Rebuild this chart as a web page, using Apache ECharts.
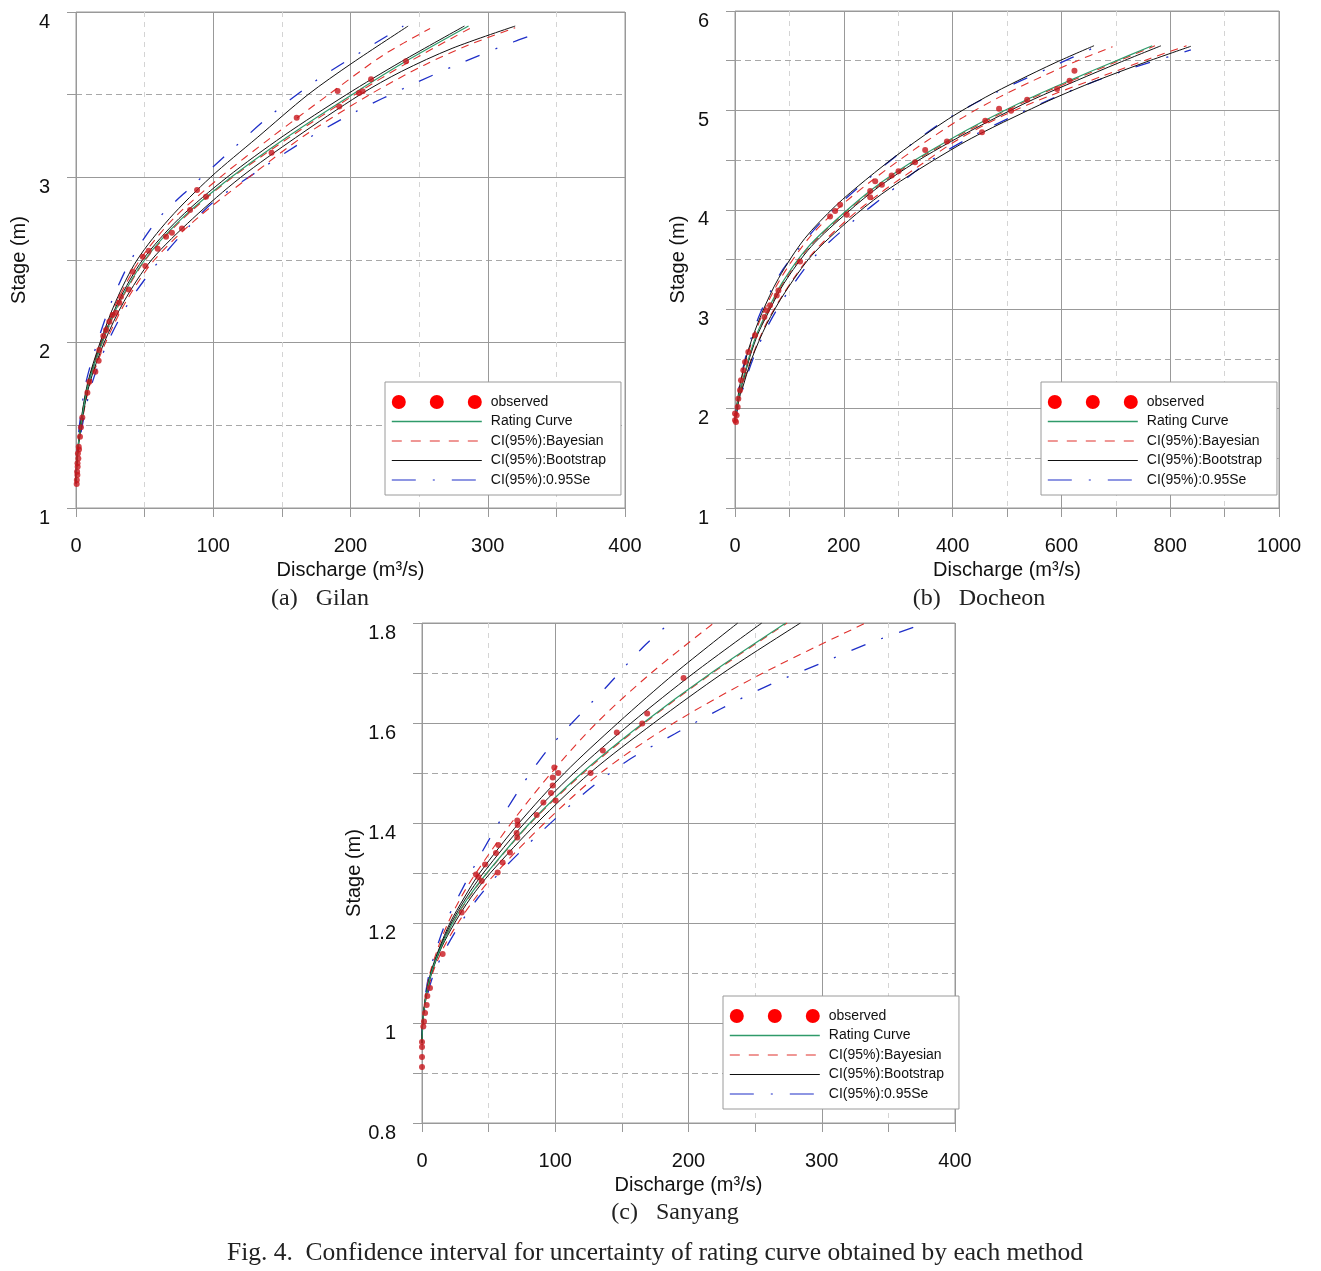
<!DOCTYPE html>
<html><head><meta charset="utf-8">
<script src="https://cdn.jsdelivr.net/npm/echarts@6/dist/echarts.min.js"></script>
<style>html,body{margin:0;padding:0;background:#fff}#c{width:1321px;height:1271px}</style>
</head><body><div id="c"></div>
<script>
// ---------- (a) Gilan : [discharge m3/s, stage m] ----------
const gilanObs = [[0.5,1.145],[0.6,1.17],[1.0,1.199],[0.8,1.22],[1.2,1.249],[1.1,1.27],[1.7,1.30],[1.4,1.33],[2.2,1.354],[2.0,1.37],[2.9,1.431],[3.6,1.488],[4.6,1.548],[8.3,1.697],[9.7,1.763],[14.1,1.824],[16.5,1.891],[17,1.955],[19.9,2.04],[21.9,2.076],[24.3,2.127],[26.7,2.167],[29.1,2.181],[31.6,2.241],[32.8,2.278],[38.4,2.322],[41.3,2.429],[50.5,2.463],[48.6,2.52],[53,2.556],[59.5,2.568],[65.6,2.641],[69.9,2.665],[77.2,2.691],[83.1,2.802],[88.2,2.923],[94.7,2.883],[142.5,3.148],[160.8,3.36],[190.6,3.522],[191.8,3.429],[206.2,3.51],[208.9,3.52],[215,3.593],[240.5,3.702]];
const gilanRating = [[0,1.15],[0.8,1.3],[3.5,1.5],[9,1.75],[19,2.0],[32,2.25],[50,2.5],[77,2.75],[113,3.0],[155,3.25],[201,3.5],[240,3.7],[286,3.915]];
const gilanBayesUp = [[0,1.15],[0.7,1.3],[3.3,1.5],[8.6,1.75],[18,2.0],[30,2.25],[46.5,2.5],[71,2.75],[105,3.0],[142,3.24],[184,3.5],[224,3.74],[258,3.9]];
const gilanBayesMid = [[0,1.15],[0.8,1.3],[3.5,1.5],[9.1,1.75],[19.2,2.0],[32.5,2.25],[50.5,2.5],[78,2.75],[114,3.0],[157,3.25],[203,3.5],[243,3.7],[289,3.91]];
const gilanBayesLow = [[0,1.15],[0.9,1.3],[4,1.5],[10.2,1.75],[21.5,2.0],[36.5,2.25],[57,2.5],[88,2.75],[126,3.0],[166,3.25],[214,3.5],[254,3.68],[286,3.8],[320,3.905]];
const gilanBootUp = [[0,1.15],[0.7,1.3],[3.2,1.5],[8.3,1.75],[17.5,2.0],[29,2.25],[44.5,2.5],[68,2.75],[98,3.0],[132,3.24],[169,3.5],[201,3.69],[242,3.915]];
const gilanBootMid = [[0,1.15],[0.8,1.3],[3.4,1.5],[8.8,1.75],[18.6,2.0],[31,2.25],[48.5,2.5],[75,2.75],[110,3.0],[151,3.25],[197,3.5],[237,3.7],[283,3.915]];
const gilanBootLow = [[0,1.15],[0.9,1.3],[3.9,1.5],[9.8,1.75],[20.5,2.0],[35,2.25],[55,2.5],[85,2.75],[120,3.0],[160,3.24],[207,3.5],[237,3.64],[274,3.78],[320,3.915]];
const gilanSeUp = [[0,1.15],[0.5,1.3],[2.5,1.5],[7,1.75],[15.5,2.0],[26,2.25],[40,2.5],[60,2.75],[85,2.95],[110,3.14],[141,3.37],[174,3.58],[208,3.76],[238.5,3.915]];
const gilanSeLow = [[0,1.15],[1,1.3],[4.6,1.5],[11.5,1.75],[23,2.0],[39,2.25],[61,2.5],[82,2.7],[100,2.85],[136.5,3.06],[170,3.24],[204.5,3.4],[242,3.55],[280,3.69],[319,3.82],[338,3.875]];

// ---------- (b) Docheon ----------
const docheonObs = [[0,1.882],[0,1.95],[1.8,1.866],[3,1.933],[4.9,2.017],[6.1,2.1],[9.2,2.184],[11,2.285],[15.3,2.385],[18.4,2.469],[24.5,2.57],[36.8,2.737],[54,2.921],[58.3,2.988],[64.4,3.039],[76.7,3.139],[79.8,3.189],[119.6,3.481],[174.8,3.933],[184,3.987],[193.3,4.05],[205.5,3.95],[248.5,4.127],[248.5,4.188],[257.7,4.288],[270,4.251],[288,4.345],[300.6,4.389],[331,4.479],[349.6,4.601],[389.6,4.688],[454,4.779],[460,4.896],[485.4,5.017],[507.5,4.997],[537,5.107],[592,5.215],[615,5.299],[624,5.399]];
const docheonRating = [[0,1.88],[1.8,1.95],[6,2.1],[11,2.22],[20,2.4],[27.6,2.55],[40,2.75],[54,2.92],[86,3.26],[135,3.63],[202.5,3.98],[257.7,4.23],[325,4.48],[389.6,4.69],[460,4.9],[537,5.11],[615,5.3],[692,5.48],[767,5.65]];
const docheonBayesUp = [[0,1.88],[1.6,1.95],[5.3,2.1],[10,2.25],[26,2.59],[51,2.955],[84,3.31],[135,3.71],[195,4.04],[253,4.3],[328,4.6],[414,4.913],[485,5.131],[548,5.299],[622,5.483],[694,5.641]];
const docheonBayesMid = [[0,1.88],[1.9,1.95],[6.2,2.1],[11.3,2.22],[20.5,2.4],[28.2,2.55],[41,2.75],[55.5,2.92],[88,3.26],[137,3.63],[205,3.98],[261,4.23],[328,4.48],[393,4.69],[464,4.9],[541,5.11],[620,5.3],[697,5.48],[772,5.65]];
const docheonBayesLow = [[0,1.88],[2.3,1.95],[7,2.1],[12,2.2],[30,2.5],[57,2.85],[91,3.17],[139,3.54],[204,3.89],[265,4.16],[338,4.44],[408,4.7],[494,4.95],[580,5.15],[678,5.35],[762,5.52],[830,5.651]];
const docheonBootUp = [[0,1.88],[1.5,1.95],[5,2.1],[9.5,2.25],[24.5,2.59],[49,2.955],[80,3.31],[128,3.71],[185,4.04],[240,4.3],[310,4.6],[392,4.913],[460,5.131],[520,5.299],[590,5.483],[660,5.651]];
const docheonBootMid = [[0,1.88],[2,1.95],[6.5,2.1],[11.8,2.22],[21,2.4],[29,2.55],[42,2.75],[57,2.92],[90,3.26],[140,3.63],[208,3.98],[264,4.23],[332,4.48],[398,4.69],[470,4.9],[548,5.11],[628,5.3],[706,5.48],[783,5.65]];
const docheonBootLow = [[0,1.88],[2.5,1.95],[7.5,2.1],[12.3,2.18],[30.7,2.5],[58.3,2.85],[92,3.17],[141,3.54],[208.6,3.89],[270,4.16],[339,4.41],[415,4.66],[456,4.78],[531,4.98],[590,5.13],[660,5.29],[752,5.48],[838,5.645]];
const docheonSeUp = [[0,1.88],[1.4,1.95],[4.7,2.1],[8.5,2.25],[23,2.59],[46,2.955],[78,3.31],[96,3.46],[158,3.876],[232,4.25],[310,4.6],[392,4.92],[480,5.18],[580,5.433],[668,5.651]];
const docheonSeLow = [[0,1.88],[2.8,1.95],[8.5,2.1],[13.5,2.18],[33,2.5],[62,2.85],[97,3.17],[148,3.54],[218,3.89],[280,4.16],[350,4.46],[432,4.728],[520,4.963],[610,5.181],[715,5.399],[838,5.608]];

// ---------- (c) Sanyang ----------
const sanyangObs = [[0,0.912],[0,0.932],[0,0.952],[0,0.962],[1.0,0.993],[1.5,1.003],[2.3,1.02],[3.5,1.036],[4.0,1.054],[6.0,1.07],[15.5,1.138],[29.8,1.221],[40.5,1.297],[42.3,1.292],[44.8,1.284],[47.3,1.317],[56.8,1.301],[55.5,1.34],[57.3,1.356],[60.5,1.321],[66,1.341],[71.5,1.371],[71,1.38],[71.8,1.396],[71.5,1.405],[86.1,1.416],[91.1,1.441],[100.3,1.445],[96.8,1.46],[98.1,1.475],[98.1,1.491],[102.3,1.5],[99.3,1.511],[126.5,1.5],[135.7,1.545],[146.2,1.581],[165.3,1.599],[169,1.619],[196.3,1.69]];
const sanyangRating = [[0,0.96],[0.5,1.0],[2.8,1.05],[7,1.1],[14,1.15],[23,1.2],[34.5,1.25],[48.7,1.3],[81,1.4],[120,1.5],[166,1.6],[217,1.7],[273,1.8]];
const sanyangBayesUp = [[0,0.96],[0.4,1.0],[2.4,1.05],[6,1.1],[12,1.15],[19.5,1.2],[29,1.25],[40.5,1.3],[67,1.4],[97,1.5],[131,1.6],[172,1.7],[219,1.8]];
const sanyangBayesMid = [[0,0.96],[0.5,1.0],[2.8,1.05],[7,1.1],[14,1.15],[23.2,1.2],[35,1.25],[49,1.3],[81.5,1.4],[121,1.5],[167,1.6],[218,1.7],[274,1.8]];
const sanyangBayesLow = [[0,0.96],[0.6,1.0],[3.2,1.05],[8,1.1],[16,1.15],[27,1.2],[40,1.25],[55.4,1.3],[92,1.4],[134,1.5],[189,1.6],[256,1.7],[333,1.8]];
const sanyangBootUp = [[0,0.96],[0.5,1.0],[2.6,1.05],[6.5,1.1],[13,1.15],[21,1.2],[31.5,1.25],[43.3,1.3],[72.8,1.4],[107,1.5],[147,1.6],[190,1.7],[237,1.8]];
const sanyangBootMid = [[0,0.96],[0.5,1.0],[2.7,1.05],[6.8,1.1],[13.5,1.15],[22,1.2],[33,1.25],[46,1.3],[77,1.4],[114,1.5],[157,1.6],[204,1.7],[255,1.8]];
const sanyangBootLow = [[0,0.96],[0.5,1.0],[2.9,1.05],[7.3,1.1],[14.5,1.15],[24.5,1.2],[36.5,1.25],[51.3,1.3],[86.3,1.4],[126,1.5],[174,1.6],[226,1.7],[284,1.8]];
const sanyangSeUp = [[0,0.96],[0.4,1.0],[2.2,1.05],[5.5,1.1],[11,1.15],[17.7,1.2],[26,1.246],[44,1.337],[62,1.42],[73,1.467],[84,1.51],[95,1.549],[110,1.593],[138,1.671],[166,1.752],[186,1.8]];
const sanyangSeLow = [[0,0.96],[0.7,1.0],[3.6,1.05],[9,1.1],[18,1.15],[29,1.2],[42,1.25],[58,1.3],[88.5,1.38],[122,1.46],[154.5,1.525],[189.5,1.578],[224,1.628],[263,1.679],[300,1.72],[338,1.762],[378,1.8]];

// ---------- axes ----------
const xRanges = [[0,400,100],[0,1000,200],[0,400,100]];
const yRanges = [[1,4,1],[1,6,1],[0.8,1.8,0.2]];
const captions = ['(a)\u2002 Gilan','(b)\u2002 Docheon','(c)\u2002 Sanyang'];
const figCaption = 'Fig. 4.  Confidence interval for uncertainty of rating curve obtained by each method';
const legendNames = ['observed','Rating Curve','CI(95%):Bayesian','CI(95%):Bootstrap','CI(95%):0.95Se'];

const SANS = '"Liberation Sans", Arial, sans-serif';
const SERIF = '"Liberation Serif", "DejaVu Serif", serif';
const GRID_C = '#999999';

const grids = [
  {left:76, top:12, width:549, height:496},
  {left:735, top:11, width:544, height:497},
  {left:422, top:623, width:533, height:500}
];

const xAxes = xRanges.map((r,i)=>({
  type:'value', gridIndex:i, min:r[0], max:r[1], interval:r[2],
  name:'Discharge (m\u00b3/s)', nameLocation:'middle', nameGap:52,
  nameTextStyle:{fontSize:20, fontFamily:SANS, color:'#111'},
  axisLine:{show:false},
  axisTick:{show:true, length:9, lineStyle:{color:GRID_C}},
  minorTick:{show:true, splitNumber:2, length:9, lineStyle:{color:GRID_C}},
  axisLabel:{fontSize:20, fontFamily:SANS, color:'#111', margin:28, showMinLabel:true, showMaxLabel:true,
    formatter:v=>String(v)},
  splitLine:{show:true, lineStyle:{color:GRID_C, width:1}},
  minorSplitLine:{show:true, lineStyle:{color:'#d4d4d4', width:1, type:[5,5]}}
}));
const yAxes = yRanges.map((r,i)=>({
  type:'value', gridIndex:i, min:r[0], max:r[1], interval:r[2],
  name:'Stage (m)', nameLocation:'middle', nameGap:47, nameRotate:90,
  nameTextStyle:{fontSize:20, fontFamily:SANS, color:'#111'},
  axisLine:{show:false},
  axisTick:{show:true, length:9, lineStyle:{color:GRID_C}},
  minorTick:{show:true, splitNumber:2, length:9, lineStyle:{color:GRID_C}},
  axisLabel:{fontSize:20, fontFamily:SANS, color:'#111', margin:26, verticalAlign:'top', showMinLabel:true, showMaxLabel:true},
  splitLine:{show:true, lineStyle:{color:GRID_C, width:1}},
  minorSplitLine:{show:true, lineStyle:{color:'#a8a8a8', width:1, type:[6,4]}}
}));

const STY = {
  se:   {color:'#1f2fc8', width:1.3, type:[15,17,2,17]},
  bay:  {color:'#e0302c', width:1.1, type:[8,6]},
  boot: {color:'#111111', width:1, type:'solid'},
  rat:  {color:'#2f9a6a', width:1.2, type:'solid'}
};

function curve(name, data, gi, sty, z){
  return {type:'line', name:name, data:data, xAxisIndex:gi, yAxisIndex:gi,
    symbol:'none', showSymbol:false, smooth:0.3, silent:true, clip:true, z:z,
    lineStyle:Object.assign({}, sty), itemStyle:{color:sty.color}};
}
function obs(data, gi){
  return {type:'scatter', name:'observed', data:data, xAxisIndex:gi, yAxisIndex:gi,
    symbol:'circle', symbolSize:6, z:10, silent:true, itemStyle:{color:'#c8161d'}};
}
const panels = [
  [gilanObs,gilanRating,gilanBayesUp,gilanBayesMid,gilanBayesLow,gilanBootUp,gilanBootMid,gilanBootLow,gilanSeUp,gilanSeLow],
  [docheonObs,docheonRating,docheonBayesUp,docheonBayesMid,docheonBayesLow,docheonBootUp,docheonBootMid,docheonBootLow,docheonSeUp,docheonSeLow],
  [sanyangObs,sanyangRating,sanyangBayesUp,sanyangBayesMid,sanyangBayesLow,sanyangBootUp,sanyangBootMid,sanyangBootLow,sanyangSeUp,sanyangSeLow]
];
const series = [];
panels.forEach((p,gi)=>{
  series.push(curve(legendNames[4], p[8], gi, STY.se, 2));
  series.push(curve(legendNames[4], p[9], gi, STY.se, 2));
  series.push(curve(legendNames[2], p[2], gi, STY.bay, 3));
  series.push(curve(legendNames[2], p[3], gi, STY.bay, 3));
  series.push(curve(legendNames[2], p[4], gi, STY.bay, 3));
  series.push(curve(legendNames[3], p[5], gi, STY.boot, 4));
  series.push(curve(legendNames[3], p[6], gi, STY.boot, 4));
  series.push(curve(legendNames[3], p[7], gi, STY.boot, 4));
  series.push(curve(legendNames[1], p[1], gi, STY.rat, 5));
  series.push(obs(p[0], gi));
});

const dotsIcon = 'path://M0,7a7,7 0 1,0 14,0a7,7 0 1,0 -14,0zM38,7a7,7 0 1,0 14,0a7,7 0 1,0 -14,0zM76,7a7,7 0 1,0 14,0a7,7 0 1,0 -14,0z';
const hidden = {color:'rgba(0,0,0,0)', borderColor:'rgba(0,0,0,0)', borderWidth:0, opacity:0};
const legendPos = [[385,382],[1041,382],[723,996]];
const legends = legendPos.map(p=>({
  orient:'vertical', left:p[0], top:p[1], itemWidth:90, itemHeight:14, itemGap:5.5,
  padding:[13,15,8,6], backgroundColor:'#fff', borderColor:'#9a9a9a', borderWidth:1, borderRadius:0,
  selectedMode:false,
  textStyle:{fontSize:14, fontFamily:SANS, color:'#111', padding:[0,0,0,4]},
  data:[
    {name:legendNames[0], icon:dotsIcon, itemStyle:{color:'#ff0000', opacity:1}},
    {name:legendNames[1], itemStyle:hidden, lineStyle:{color:'#2f9a6a', width:1.6, type:'solid', opacity:1}},
    {name:legendNames[2], itemStyle:hidden, lineStyle:{color:STY.bay.color, width:1.1, type:[10,9], opacity:1}},
    {name:legendNames[3], itemStyle:hidden, lineStyle:{color:'#111', width:1.1, type:'solid', opacity:1}},
    {name:legendNames[4], itemStyle:hidden, lineStyle:{color:STY.se.color, width:1.2, type:[24,17,2,17], opacity:1}}
  ]
}));

const capPos = [[320,599],[979,599],[675,1213]];
const graphic = captions.map((t,i)=>({type:'text', x:capPos[i][0], y:capPos[i][1],
  style:{text:t, font:'24px '+SERIF, fill:'#222', textAlign:'center', textVerticalAlign:'middle'}}));
graphic.push({type:'text', x:655, y:1253,
  style:{text:figCaption, font:'25.5px '+SERIF, fill:'#222', textAlign:'center', textVerticalAlign:'middle'}});

const chart = echarts.init(document.getElementById('c'), null, {renderer:'canvas'});
chart.setOption({
  animation:false, backgroundColor:'#fff',
  grid: grids.map(g=>Object.assign({show:true, borderColor:'#9a9a9a', borderWidth:1, backgroundColor:'transparent'}, g)),
  xAxis:xAxes, yAxis:yAxes, legend:legends, series:series, graphic:graphic
});
</script></body></html>
